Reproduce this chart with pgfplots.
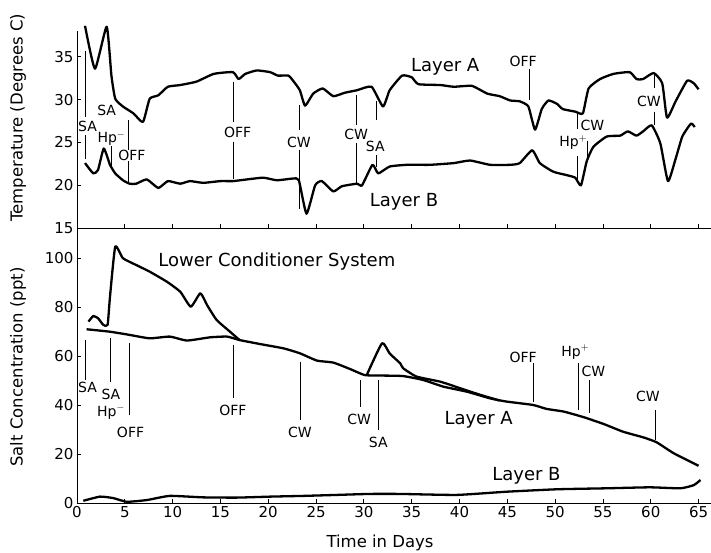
\documentclass[border=0pt]{standalone}
\usepackage{fontspec}
\setmainfont{DejaVu Sans}
\usepackage{pgfplots}
\pgfplotsset{compat=1.18}
\begin{document}
\begin{tikzpicture}
\pgfplotsset{
  every axis/.append style={
    scale only axis, width=634pt, xmin=0, xmax=66.3,
    axis x line=bottom, axis y line=left,
    axis line style={-, line width=0.9pt},
    tick align=inside, major tick length=4pt,
    tick style={line width=0.8pt, black},
    xtick={0,5,...,65},
    /pgf/number format/assume math mode=true,
    ticklabel style={font=\fontsize{15}{15}\selectfont},
    label style={font=\fontsize{16.5}{16.5}\selectfont},
  },
  curve/.style={black, line width=2.3pt, line join=round, no marks, smooth, tension=0.3},
  ann/.style={black, line width=0.7pt, no marks},
}
\def\af{\fontsize{14}{14}\selectfont}
\def\lf{\fontsize{18}{18}\selectfont}
% ---------------- bottom axis: salt ----------------
\begin{axis}[name=bot, at={(0,0)}, anchor=south west,
  height=274.7pt, ymin=0, ymax=112.1, ytick={0,20,...,100},
  xlabel={Time in Days}, ylabel={Salt Concentration (ppt)},
  xlabel style={at={(axis description cs:0.478,-0.146)}, anchor=center},
  ylabel style={at={(axis description cs:-0.093,0.495)}, anchor=center},
  clip=false]
\addplot[curve] coordinates {(1.0,70.9) (3.45,69.9) (5.5,68.6) (7.6,67.2) (9.7,67.9) (11.5,66.3) (13.9,67.6) (15.7,67.9) (17.0,66.5) (19.1,64.9) (21.6,63.1) (23.3,61.1) (25.1,58.1) (26.8,57.3) (28.6,54.6) (30.1,52.2) (32.0,52.0) (34.1,51.8) (36.2,50.2) (38.3,47.5) (40.8,45.4) (43.2,42.7) (44.9,41.4) (47.7,40.0) (49.1,38.4) (50.9,37.3) (53.0,35.0) (55.1,32.2) (57.1,29.1) (59.2,26.8) (60.6,24.8) (62.4,20.3) (65.0,15.2)};
\addplot[curve] coordinates {(1.2,74.0) (1.7,76.3) (2.2,75.4) (2.75,72.7) (3.2,72.7) (3.45,84.2) (4.0,104.6) (4.8,99.9) (6.2,97.1) (7.6,94.4) (9.4,90.3) (10.8,86.2) (11.9,80.1) (12.9,85.6) (13.6,80.8) (14.6,74.7) (16.0,69.9) (17.0,66.5)};
\addplot[curve] coordinates {(30.3,52.2) (31.9,65.2) (32.7,61.0) (33.8,57.0) (34.1,55.0) (35.5,51.6) (38.0,49.5) (40.1,46.8) (42.2,44.1) (44.2,41.8)};
\addplot[curve] coordinates {(0.66,0.9) (2.4,2.6) (3.8,2.0) (5.2,0.5) (7.3,1.2) (9.7,2.9) (13.2,2.3) (16.7,2.2) (20.2,2.6) (23.7,2.9) (27.2,3.3) (30.6,3.7) (33.8,3.7) (39.7,3.3) (44.9,4.6) (50.2,5.6) (55.4,6.0) (59.9,6.4) (63.1,6.0) (64.5,7.3) (65.2,9.4)};
% event markers
\addplot[ann] coordinates {(0.84,66.5) (0.84,50.2)};
\addplot[ann] coordinates {(3.5,67.3) (3.5,49.4)};
\addplot[ann] coordinates {(5.5,65.3) (5.5,35.9)};
\addplot[ann] coordinates {(16.35,64.5) (16.35,42.9)};
\addplot[ann] coordinates {(23.4,57.7) (23.4,33.9)};
\addplot[ann] coordinates {(29.6,50.2) (29.6,39.2)};
\addplot[ann] coordinates {(31.5,50.2) (31.5,29.8)};
\addplot[ann] coordinates {(47.7,57.0) (47.7,41.2)};
\addplot[ann] coordinates {(52.4,57.1) (52.4,38.0)};
\addplot[ann] coordinates {(53.55,50.2) (53.55,36.7)};
\addplot[ann] coordinates {(60.5,38.0) (60.5,25.7)};
\node[font=\af] at (axis cs:1.1,47.1) {SA};
\node[font=\af] at (axis cs:3.55,44.5) {SA};
\node[font=\af] at (axis cs:3.55,37.1) {Hp$^-$};
\node[font=\af] at (axis cs:5.6,28.8) {OFF};
\node[font=\af] at (axis cs:16.3,37.6) {OFF};
\node[font=\af] at (axis cs:23.3,28.8) {CW};
\node[font=\af] at (axis cs:29.5,34.3) {CW};
\node[font=\af] at (axis cs:31.5,24.9) {SA};
\node[font=\af] at (axis cs:46.65,59.4) {OFF};
\node[font=\af] at (axis cs:52.1,61.6) {Hp$^+$};
\node[font=\af] at (axis cs:54.0,53.9) {CW};
\node[font=\af] at (axis cs:59.7,43.3) {CW};
\node[font=\lf] at (axis cs:20.9,98.6) {Lower Conditioner System};
\node[font=\lf] at (axis cs:42.0,34.1) {Layer A};
\node[font=\lf] at (axis cs:47.0,11.2) {Layer B};
\coordinate (BL) at (rel axis cs:0,0);
\end{axis}
% ---------------- top axis: temperature ----------------
\begin{axis}[at={(bot.north west)}, anchor=south west,
  height=197.3pt, ymin=15, ymax=38, ytick={15,20,...,35},
  xticklabels={},
  ylabel={Temperature (Degrees C)},
  ylabel style={at={(axis description cs:-0.093,0.56)}, anchor=center},
  clip=false]
\addplot[curve] coordinates {(0.84,38.6) (1.88,33.6) (3.1,38.5) (3.6,32.8) (4.0,30.1) (4.8,29.2) (5.9,28.4) (6.9,27.4) (7.6,30.1) (8.5,30.5) (9.5,31.5) (10.8,31.7) (12.5,32.1) (14.3,33.0) (16.3,33.2) (16.9,32.4) (17.6,33.0) (18.8,33.4) (20.2,33.2) (21.0,32.8) (22.1,32.8) (22.6,32.2) (23.3,31.1) (23.85,29.3) (24.7,30.7) (25.7,31.3) (26.8,30.4) (28.0,30.8) (29.3,31.1) (30.8,31.5) (32.0,29.2) (32.7,31.1) (34.0,32.8) (35.0,32.6) (35.7,31.8) (38.0,31.7) (39.4,31.5) (41.3,31.6) (42.9,30.7) (44.2,30.4) (45.3,29.9) (46.3,29.8) (47.2,29.2) (47.9,26.5) (48.6,28.9) (49.3,29.9) (50.2,29.5) (50.8,28.9) (52.1,28.6) (52.9,28.4) (53.5,31.3) (54.7,32.4) (56.1,33.0) (57.8,33.2) (58.5,32.4) (59.2,32.4) (60.3,33.1) (61.2,31.9) (61.7,27.9) (62.6,29.8) (63.8,32.2) (64.5,31.9) (65.0,31.2)};
\addplot[curve] coordinates {(0.84,22.6) (1.7,21.4) (2.2,21.8) (2.8,24.3) (3.45,22.4) (4.0,21.4) (4.8,20.6) (5.5,20.2) (6.2,20.2) (7.3,20.7) (8.5,19.7) (9.5,20.5) (10.8,20.2) (11.8,20.5) (13.2,20.3) (15.0,20.5) (16.3,20.5) (17.8,20.7) (19.5,20.9) (20.9,20.6) (22.6,20.8) (23.2,20.6) (24.0,16.7) (24.9,20.0) (25.6,20.5) (26.8,19.3) (27.7,19.9) (29.3,20.2) (29.8,20.0) (30.9,22.4) (31.5,21.4) (32.7,22.2) (34.5,22.4) (36.9,22.4) (39.4,22.6) (41.1,22.9) (43.2,22.4) (45.3,22.4) (46.3,22.6) (47.6,24.1) (48.4,22.6) (49.8,21.6) (51.2,21.2) (52.1,20.9) (52.7,20.0) (53.3,22.8) (54.0,24.5) (55.4,25.7) (56.8,25.8) (57.6,26.3) (58.5,25.8) (59.2,26.3) (60.1,27.0) (61.0,24.9) (61.8,20.5) (62.6,23.1) (63.3,25.7) (64.2,27.2) (64.6,26.8)};
% event markers
\addplot[ann] coordinates {(0.84,35.7) (0.84,28.0)};
\addplot[ann] coordinates {(0.84,25.9) (0.84,23.1)};
\addplot[ann] coordinates {(3.63,24.6) (3.63,22.3)};
\addplot[ann] coordinates {(5.4,27.6) (5.4,24.1)};
\addplot[ann] coordinates {(5.4,22.8) (5.4,20.4)};
\addplot[ann] coordinates {(16.35,32.1) (16.35,27.4)};
\addplot[ann] coordinates {(16.35,25.1) (16.35,20.8)};
\addplot[ann] coordinates {(23.3,29.4) (23.3,26.5)};
\addplot[ann] coordinates {(23.3,24.1) (23.3,17.2)};
\addplot[ann] coordinates {(29.25,30.5) (29.25,27.0)};
\addplot[ann] coordinates {(29.25,24.9) (29.25,20.3)};
\addplot[ann] coordinates {(31.35,29.8) (31.35,27.6)};
\addplot[ann] coordinates {(31.35,23.5) (31.35,22.2)};
\addplot[ann] coordinates {(47.3,33.6) (47.3,29.9)};
\addplot[ann] coordinates {(52.35,28.4) (52.35,26.6)};
\addplot[ann] coordinates {(52.3,23.4) (52.3,20.4)};
\addplot[ann] coordinates {(53.4,25.2) (53.4,23.3)};
\addplot[ann] coordinates {(60.35,33.0) (60.35,31.3)};
\addplot[ann] coordinates {(60.35,28.6) (60.35,27.0)};
\node[font=\af] at (axis cs:1.1,26.9) {SA};
\node[font=\af] at (axis cs:3.1,28.7) {SA};
\node[font=\af] at (axis cs:3.6,25.5) {Hp$^-$};
\node[font=\af] at (axis cs:5.75,23.45) {OFF};
\node[font=\af] at (axis cs:16.8,26.2) {OFF};
\node[font=\af] at (axis cs:23.2,25.0) {CW};
\node[font=\af] at (axis cs:29.2,25.9) {CW};
\node[font=\af] at (axis cs:31.2,24.5) {SA};
\node[font=\af] at (axis cs:46.65,34.5) {OFF};
\node[font=\af] at (axis cs:53.9,27.0) {CW};
\node[font=\af] at (axis cs:51.9,25.0) {Hp$^+$};
\node[font=\af] at (axis cs:59.8,29.8) {CW};
\node[font=\lf] at (axis cs:38.5,33.8) {Layer A};
\node[font=\lf] at (axis cs:34.2,18.1) {Layer B};
\end{axis}
\pgfresetboundingbox
\path (BL) ++(-77pt,-50pt) rectangle ++(711pt,553pt);
\end{tikzpicture}
\end{document}
